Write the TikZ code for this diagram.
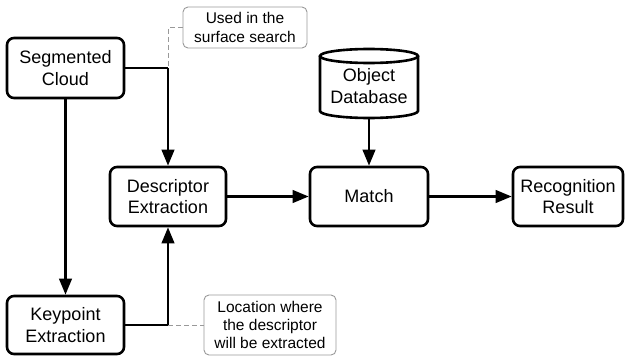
\documentclass[tikz,border=0pt]{standalone}
\usepackage{fontspec}
\setmainfont{Liberation Sans}
\usetikzlibrary{arrows.meta}
\begin{document}
\begin{tikzpicture}[x=1pt,y=-1pt,
  box/.style={draw,line width=2.6pt,rounded corners=7pt,align=center,
    font=\fontsize{18}{21.5}\selectfont,inner sep=0pt},
  note/.style={draw=black!40,line width=0.9pt,rounded corners=5pt,align=center,
    font=\fontsize{15.5}{18.3}\selectfont,inner sep=0pt},
  conn/.style={line width=2.5pt,-{Triangle[length=16pt,width=12.5pt]}},
  link/.style={line width=2.5pt},
  lead/.style={draw=black!40,line width=0.9pt,dash pattern=on 5pt off 3pt}]
\useasboundingbox (0,0) rectangle (626,356);

% process boxes
\node[box,minimum width=117pt,minimum height=60pt] (seg) at (65.5,68) {Segmented\\Cloud};
\node[box,minimum width=117pt,minimum height=58pt] (key) at (65.5,325) {Keypoint\\Extraction};
\node[box,minimum width=116pt,minimum height=59pt] (desc) at (168,196.5) {Descriptor\\Extraction};
\node[box,minimum width=118pt,minimum height=59pt] (match) at (369,196.5) {Match};
\node[box,minimum width=110pt,minimum height=59pt] (res) at (568,196.5) {Recognition\\Result};

% database cylinder
\node[align=center,font=\fontsize{18}{21.5}\selectfont,inner sep=0pt] (db) at (369,86) {Object\\Database};
\draw[line width=2.6pt] (369,56) ellipse [x radius=49pt,y radius=7pt];
\draw[line width=2.6pt] (320,56) -- (320,111)
  arc[start angle=180,end angle=360,x radius=49pt,y radius=7pt] -- (418,56);
\coordinate (dbbot) at (369,118);

% annotations
\node[note,minimum width=124pt,minimum height=41pt] (n1) at (245,27.5) {Used in the\\surface search};
\node[note,minimum width=132pt,minimum height=60pt] (n2) at (270,325) {Location where\\the descriptor\\will be extracted};

% connectors
\coordinate (c1) at (desc.north |- seg.east);
\coordinate (c2) at (desc.south |- key.east);
\draw[lead] (n1.west) -| (c1);
\draw[lead] (c2) -- (n2.west);
\draw[link] (seg.east) -- (c1);
\draw[conn] (c1) -- (desc.north);
\draw[conn] (seg.south) -- (key.north);
\draw[link] (key.east) -- (c2);
\draw[conn] (c2) -- (desc.south);
\draw[conn] (desc.east) -- (match.west);
\draw[conn] (dbbot) -- (match.north);
\draw[conn] (match.east) -- (res.west);
\end{tikzpicture}
\end{document}
